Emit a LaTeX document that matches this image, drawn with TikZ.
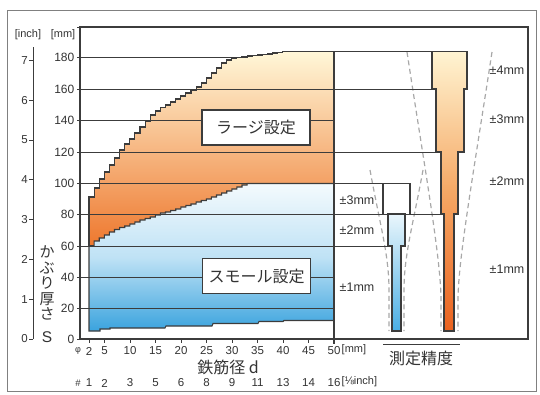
\documentclass[tikz,border=0pt]{standalone}
\usepackage{fontspec}
\setmainfont{Liberation Sans}
\newfontfamily\jp{Noto Sans CJK JP}
\definecolor{linec}{HTML}{3C3C3C}
\definecolor{txt}{HTML}{333333}
\definecolor{dashc}{HTML}{A8A8A8}
\definecolor{framec}{HTML}{808080}
\definecolor{orT}{HTML}{FFF7D8}
\definecolor{orB}{HTML}{EE782E}
\definecolor{blT}{HTML}{F4FAFD}
\definecolor{blM}{HTML}{BFE2F5}
\definecolor{blB}{HTML}{3AA3DE}
\definecolor{obT}{HTML}{FFF4D2}
\definecolor{obM}{HTML}{F5A865}
\definecolor{obB}{HTML}{EA6220}
\definecolor{bbT}{HTML}{EAF6FC}
\definecolor{bbB}{HTML}{4AAEE4}
\begin{document}
\begin{tikzpicture}[x=1pt,y=-1pt,
  ln/.style={draw=linec,line width=1.1pt},
  gl/.style={draw=linec,line width=1pt},
  dsh/.style={draw=dashc,line width=1.2pt,dash pattern=on 5pt off 3.5pt},
  lab/.style={text=txt,inner sep=0pt,font=\fontsize{12}{12}\selectfont},
  xl/.style={text=txt,inner sep=0pt,font=\fontsize{11.5}{11.5}\selectfont},
  sm/.style={text=txt,inner sep=0pt,font=\fontsize{11}{11}\selectfont},
  tol/.style={text=txt,inner sep=0pt,font=\fontsize{12.5}{12.5}\selectfont},
  jpl/.style={text=txt,inner sep=0pt,font=\jp\fontsize{16}{16}\selectfont},
  setbox/.style={draw=linec,line width=1.1pt,fill=white,minimum width=108pt,minimum height=35pt,inner sep=0pt,text=txt,font=\jp\fontsize{16}{16}\selectfont}
]
\useasboundingbox (0,0) rectangle (540,394);
\draw[draw=framec,line width=0.8pt] (7,10) rectangle (536,391);

% 180 line (under fill)
\draw[gl] (77,57.5) -- (240,57.5);

% large setting area
\shadedraw[top color=orT,bottom color=orB,draw=linec,line width=1.1pt]
 (89,246) -- (89,197) -| (94.1,188) -| (99.2,179) -| (104.3,172) -| (109.4,165) -| (114.5,158) -| (119.6,150) -| (124.7,144) -| (129.8,139) -| (134.9,133) -| (140,127) -| (145.1,121) -| (150.2,115) -| (155.3,111) -| (160.4,107.5) -| (165.5,105) -| (170.6,102) -| (175.7,99) -| (180.8,96) -| (185.9,93) -| (191,90) -| (196.1,87) -| (201.2,83) -| (206.3,78) -| (211.4,73) -| (216.5,68) -| (221.6,63) -| (226.7,60) -| (231.8,58.5) -| (236.9,57.5) -| (242,57) -| (247.1,56) -| (252.2,55.5) -| (257.3,55) -| (262.4,54.5) -| (267.5,54) -| (272.6,53) -| (277.7,52.5) -| (282.8,51.7) -- (334,51.7) -- (334,246) -- cycle;

% small setting area
\shadedraw[top color=blT,bottom color=blB,middle color=blM,draw=linec,line width=1.1pt]
 (89,331) -- (89,246) -| (94.1,241) -| (99.2,238) -| (104.3,235) -| (109.4,232) -| (114.5,229.5) -| (119.6,227.5) -| (124.7,226) -| (129.8,224) -| (134.9,222) -| (140,220) -| (145.1,218.5) -| (150.2,217) -| (155.3,215) -| (160.4,213) -| (165.5,212) -| (170.6,210.5) -| (175.7,209) -| (180.8,207) -| (185.9,205.5) -| (191,204) -| (196.1,202) -| (201.2,200.5) -| (206.3,199) -| (211.4,197) -| (216.5,195) -| (221.6,193) -| (226.7,191) -| (231.8,189) -| (236.9,187) -| (242,185) -| (247.1,183.5) -- (334,183.5) -- (334,320.5) -- (284,320.5) -- (283,321.5) -- (259,321.5) -- (258,323.5) -- (213,323.5) -- (212,326) -- (166,326) -- (165,328) -- (110,328) -- (110,329) -- (100,329) -- (100,331) -- cycle;

% dashed tolerance funnels
\draw[dsh] (407,52) .. controls (425,170) and (441,260) .. (441,300) -- (441,331);
\draw[dsh] (492,52) .. controls (474,170) and (458,260) .. (458,300) -- (458,331);
\draw[dsh] (370,170) .. controls (380,225) and (389,255) .. (389,290) -- (389,331);
\draw[dsh] (423,170) .. controls (413,225) and (404,255) .. (404,290) -- (404,331);

% accuracy bars
\shadedraw[top color=obT,bottom color=obB,middle color=obM,draw=linec,line width=1.1pt]
 (432,51.7) -- (467,51.7) -- (467,89) -- (464,89) -- (464,152) -- (458,152) -- (458,214) -- (454,214) -- (454,331) -- (444,331) -- (444,214) -- (441,214) -- (441,152) -- (436,152) -- (436,89) -- (432,89) -- cycle;
\shadedraw[top color=bbT,bottom color=bbB,draw=linec,line width=1.1pt]
 (388,214) -- (405,214) -- (405,246) -- (401,246) -- (401,331) -- (392,331) -- (392,246) -- (388,246) -- cycle;

% grid lines
\foreach \yy/\xe in {89/436,120/334,152/441,183/410,214/444,246/392,277/334,308/334}
  \draw[gl] (77,\yy) -- (\xe,\yy);
\draw[ln] (282.8,51.7) -- (432,51.7);
\draw[ln] (383,183) -- (383,214);
\draw[ln] (410,183) -- (410,214);
\draw[ln] (334,51.7) -- (334,344);
\draw[ln] (80,27) rectangle (528,339);
\draw[gl] (77,27) -- (80,27);

% mm axis
\foreach \v/\yy in {0/339,20/308,40/277,60/246,80/214,100/183,120/152,140/120,160/89,180/57.5} {
  \node[lab,anchor=east] (mm\v) at (74.5,\yy) {\v};
  \draw[gl] (77,\yy) -- (80,\yy);
}
% inch axis
\draw[gl] (33,47) -- (33,339);
\foreach \i/\yy in {0/339,1/299.2,2/259.4,3/219.6,4/179.8,5/140,6/100.2,7/60.4} {
  \node[xl,anchor=east] (in\i) at (28,\yy) {\i};
  \draw[gl] (29,\yy) -- (33,\yy);
}
\node[sm] (hinch) at (28,35) {[inch]};
\node[sm] (hmm) at (63,35) {[mm]};
\node[text=txt,inner sep=0pt,align=center,font=\jp\fontsize{15}{15.5}\selectfont] (kaburi) at (47,283) {か\\ぶ\\り\\厚\\さ};
\node[text=txt,inner sep=0pt,font=\fontsize{15.5}{15.5}\selectfont] (Slab) at (47,337) {S};

% x axis
\foreach \d/\xx in {2/89,5/104.5,10/130,15/155.5,20/181,25/206.5,30/232,35/257.5,40/283,45/308.5,50/334} {
  \node[xl] (d\d) at (\xx,351) {\d};
  \draw[gl] (\xx,339) -- (\xx,343);
}
\node[sm,font=\fontsize{9}{9}\selectfont] (phi) at (78,351) {φ};
\node[sm,anchor=west] (dmm) at (341.5,350) {[mm]};
\foreach \n/\xx in {1/89,2/104.5,3/130,5/155.5,6/181,8/206.5,9/232,11/257.5,13/283,14/308.5,16/334}
  \node[xl] (num\n) at (\xx,383) {\n};
\node[sm,font=\fontsize{9.5}{9.5}\selectfont] (hash) at (78,383) {\#};
\node[sm,anchor=west] (ein) at (341.5,382) {[⅛inch]};
\node[jpl] (dlabel) at (228,367) {鉄筋径 d};

% accuracy label
\draw[gl] (383,344) -- (460,344);
\node[jpl] (acc) at (421,358) {測定精度};

% tolerance labels
\node[tol] (t3s) at (357,200) {±3mm};
\node[tol] (t2s) at (357,230) {±2mm};
\node[tol] (t1s) at (357,287) {±1mm};
\node[tol] (t4l) at (507,70) {±4mm};
\node[tol] (t3l) at (507,119) {±3mm};
\node[tol] (t2l) at (507,181) {±2mm};
\node[tol] (t1l) at (507,269) {±1mm};

% setting boxes
\node[setbox] (large) at (256,127.5) {ラージ設定};
\node[setbox] (small) at (256.5,276) {スモール設定};
\end{tikzpicture}
\end{document}
